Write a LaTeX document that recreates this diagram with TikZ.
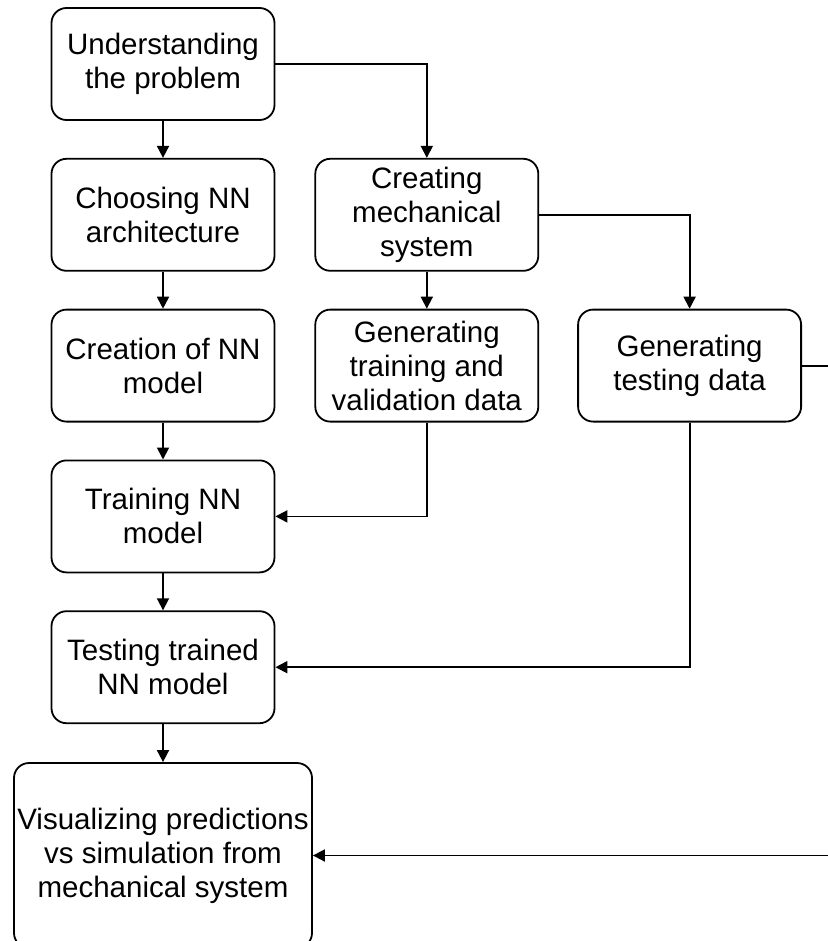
\documentclass[tikz,border=0pt]{standalone}
\usepackage{fontspec}
\setmainfont{Liberation Sans}
\usetikzlibrary{arrows.meta, positioning}

\begin{document}
\begin{tikzpicture}[
  x=1pt, y=1pt,
  font=\fontsize{29.5}{34}\selectfont,
  box/.style={draw, rounded corners=15pt, line width=1.8pt, align=center,
              minimum width=223pt, minimum height=112pt, inner sep=1pt},
  wide/.style={box, minimum width=298pt, minimum height=185pt},
  link/.style={-{Triangle[length=12pt, width=12pt]}, line width=1.8pt},
  node distance=37pt and 39pt]

  \useasboundingbox (0,0) rectangle (827,-941);

  % left column
  \node[box] (problem) at (163,-64) {Understanding\\the problem};
  \node[box, below=of problem] (arch) {Choosing NN\\architecture};
  \node[box, below=of arch] (model) {Creation of NN\\model};
  \node[box, below=of model] (train) {Training NN\\model};
  \node[box, below=of train] (test) {Testing trained\\NN model};
  \node[wide, below=38pt of test] (vis) {Visualizing predictions\\vs simulation from\\mechanical system};

  % data side
  \node[box, right=of arch] (mech) {Creating\\mechanical\\system};
  \node[box, below=of mech] (trdata) {Generating\\training and\\validation data};
  \node[box, right=38pt of trdata] (tedata) {Generating\\testing data};
  \coordinate[right=40pt of tedata.east] (bend);

  \draw[link] (problem) -- (arch);
  \draw[link] (arch) -- (model);
  \draw[link] (model) -- (train);
  \draw[link] (train) -- (test);
  \draw[link] (test) -- (vis);
  \draw[link] (problem.east) -| (mech);
  \draw[link] (mech) -- (trdata);
  \draw[link] (mech.east) -| (tedata);
  \draw[link] (trdata) |- (train);
  \draw[link] (tedata) |- (test);
  \draw[link] (tedata.east) -- (bend) |- (vis.east);
\end{tikzpicture}
\end{document}
